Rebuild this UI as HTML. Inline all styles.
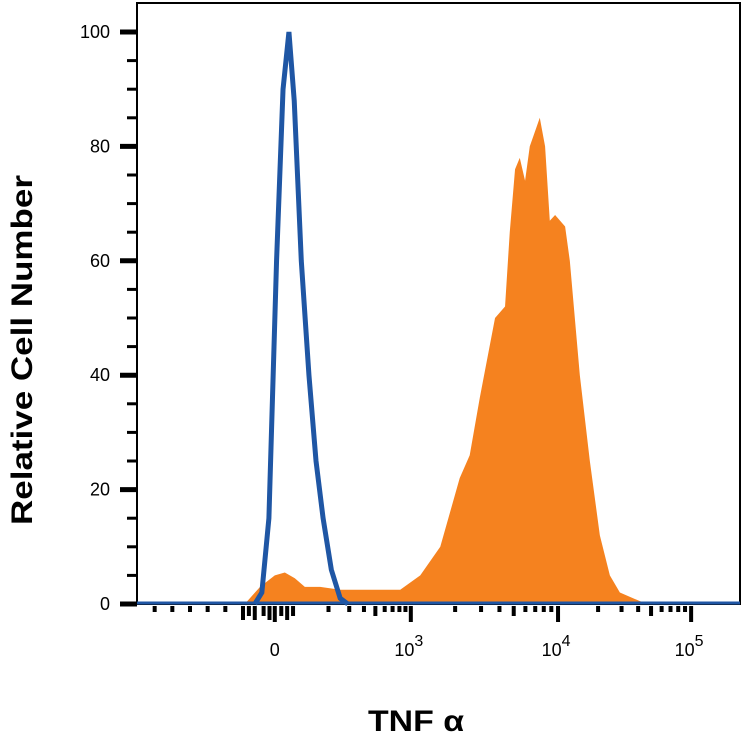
<!DOCTYPE html>
<html><head><meta charset="utf-8"><style>
body{margin:0;background:#fff}
svg text{font-family:"Liberation Sans",Arial,sans-serif}
</style></head><body>
<svg id="c" width="742" height="746"></svg>
<script>
const orangeX=[183,209,234,251,268,285,311,345,379,447,481,515,548,565,582,608,625,633,642,650,659,667,684,693,701,710,727,735,752,769,786,803,820,854,871];
const orangeY=[0,3,5,5.5,4.5,3,3,2.5,2.5,2.5,5,10,22,26,36,50,52,65,76,78,74,80,85,80,67,68,66,60,40,25,12,5,2,0.5,0];
const blueX=[200,212,224,237,248,258,267,279,292,304,316,330,345,358];
const blueY=[0,2,15,60,90,100,88,60,40,25,15,6,1,0];
const yTicks=[0,20,40,60,80,100];
const xTickLabels=[["0",234,""],["10",465,"3"],["10",715,"4"],["10",941,"5"]];
const NS="http://www.w3.org/2000/svg",svg=document.getElementById('c');
const L=137,R=740,T=3,B=604;
const xs=v=>L+(v/1024)*(R-L), ys=v=>B-v*(B-32)/100;
function el(t,a,p){const e=document.createElementNS(NS,t);for(const k in a)e.setAttribute(k,a[k]);(p||svg).appendChild(e);return e;}
let f=el('rect',{x:L,y:T,width:R-L,height:B-T,fill:'none',stroke:'#000','stroke-width':2});

let d='M'+xs(orangeX[0])+','+ys(0);orangeX.forEach((x,i)=>d+=' L'+xs(x)+','+ys(orangeY[i]));d+=' L'+xs(orangeX[orangeX.length-1])+','+ys(0)+'Z';
let o=el('path',{d:d,fill:'#f5821f'});

let bl=el('line',{x1:L,x2:R,y1:B-1,y2:B-1,stroke:'#1f56a4','stroke-width':3});

let p='';blueX.forEach((x,i)=>p+=(i?' L':'M')+xs(x)+','+ys(blueY[i]));
let b=el('path',{d:p,fill:'none',stroke:'#1f56a4','stroke-width':5,'stroke-linejoin':'miter'});

for(let v=0;v<=100;v+=5){const maj=v%20==0;
 let t=el('line',{x1:maj?120:127,x2:L,y1:ys(v),y2:ys(v),stroke:'#000','stroke-width':maj?5:3});
 }
yTicks.forEach(v=>{let t=el('text',{x:110,y:ys(v)+6,'font-size':18,'text-anchor':'end'});t.textContent=v;
 });
const dec=[[3,465],[4,715],[5,941]];
function lg(v){const l=Math.log10(v);if(l<=4)return 465+(l-3)*250;return 715+(l-4)*226;}
const minor=[];
for(let e=2;e<=4;e++)for(let k=2;k<=9;k++){const c=e==2?465-(3-Math.log10(k*100))*200:lg(k*Math.pow(10,e));if(c>10&&c<1000)minor.push([c,k==5?10:6]);}
[30,60,90,120,150].forEach(c=>minor.push([c,6]));
[180,190,200,215,225,245,255,265].forEach((c,i)=>minor.push([c,i%2?10:14]));
dec.forEach(dd=>minor.push([dd[1],16]));minor.push([234,16]);
minor.forEach(m=>{let t=el('rect',{x:xs(m[0])-2,y:B+2,width:4,height:m[1],fill:'#000'});
 });
xTickLabels.forEach(a=>{let t=el('text',{x:xs(a[1])+(a[2]?-2:0),y:656,'font-size':18,'text-anchor':'middle'});t.textContent=a[0];
 if(a[2]){let s=el('tspan',{dy:-10,'font-size':16},t);s.textContent=a[2];}
 });
let yt=el('text',{x:0,y:0,'font-size':30,'font-weight':'bold','text-anchor':'middle',textLength:350,lengthAdjust:'spacingAndGlyphs',transform:'translate(32,350) rotate(-90)'});yt.textContent='Relative Cell Number';

let xt=el('text',{x:416,y:731,'font-size':30,'font-weight':'bold','text-anchor':'middle',textLength:96,lengthAdjust:'spacingAndGlyphs'});xt.textContent='TNF α';

</script></body></html>
